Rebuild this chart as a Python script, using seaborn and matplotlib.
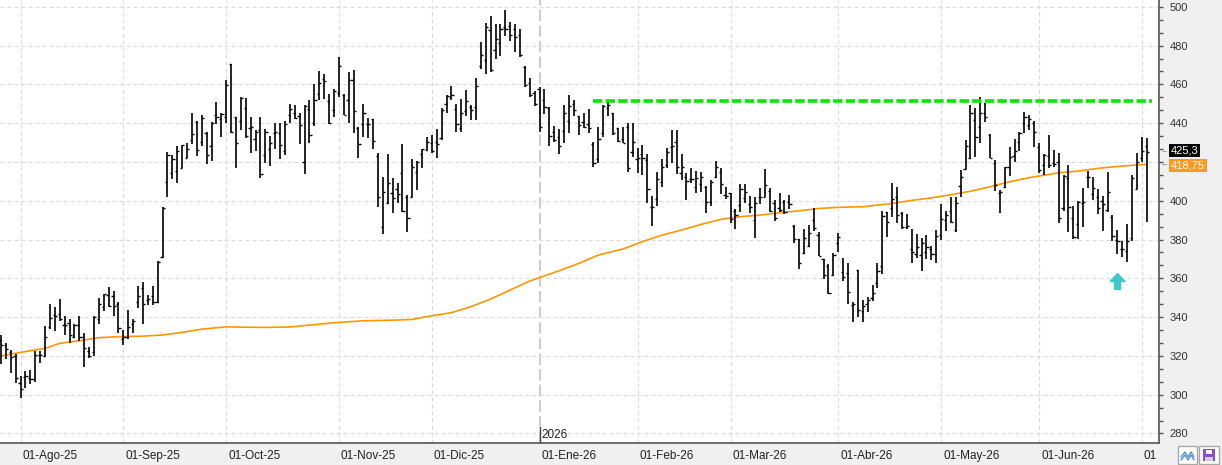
import numpy as np
import matplotlib
matplotlib.use("Agg")
import matplotlib.pyplot as plt
from matplotlib.ticker import MultipleLocator, NullFormatter, FuncFormatter
from matplotlib.patches import Rectangle
from matplotlib.lines import Line2D
import seaborn as sns

# daily OHLC bars (late Jul-25 .. 01-Jul-26)
opens = [
    328.2, 325.6, 322.2, 320.0, 305.9, 309.0, 308.8, 307.9, 320.5, 320.0,
    335.1, 341.1, 341.6, 335.9, 337.1, 329.6, 335.9, 329.6, 322.7, 322.2,
    338.9, 345.4, 351.4, 350.9, 346.8, 328.6, 329.6, 336.5, 348.0, 354.8,
    348.8, 350.9, 348.0, 370.8, 409.8, 414.1, 415.5, 416.7, 421.8, 431.3,
    440.7, 430.1, 435.1, 428.2, 444.2, 441.9, 443.3, 470.5, 443.0, 441.3,
    447.6, 437.3, 431.6, 436.4, 423.6, 426.5, 434.7, 435.1, 425.8, 444.2,
    445.0, 443.7, 419.8, 447.1, 439.9, 454.8, 462.6, 451.4, 446.8, 455.7,
    454.5, 451.9, 462.2, 437.6, 439.5, 439.5, 442.1, 423.0, 386.3, 399.0,
    404.1, 405.9, 414.5, 401.7, 402.1, 414.6, 424.1, 426.1, 429.9, 430.4,
    432.1, 449.7, 453.6, 447.1, 437.3, 446.2, 448.1, 448.1, 469.4, 472.5,
    488.0, 477.7, 481.1, 489.4, 490.0, 488.5, 485.4, 469.1, 460.5, 455.7,
    457.4, 451.9, 447.6, 435.6, 433.0, 435.9, 441.1, 449.7, 443.7, 440.7,
    439.5, 429.2, 421.3, 434.7, 447.6, 445.0, 437.3, 431.6, 437.8, 425.3,
    421.3, 424.1, 421.0, 396.9, 400.7, 409.8, 418.4, 427.9, 430.1, 414.1,
    412.4, 411.0, 407.2, 408.6, 407.2, 399.5, 412.0, 414.6, 402.9, 403.8,
    394.9, 397.8, 401.2, 398.3, 390.1, 401.7, 402.1, 405.0, 399.0, 396.1,
    399.5, 399.5, 387.0, 380.1, 373.2, 376.6, 390.1, 382.3, 369.8, 366.3,
    361.7, 378.4, 363.4, 362.6, 346.2, 364.3, 343.3, 346.8, 349.7, 357.4,
    366.5, 394.0, 396.1, 402.1, 393.5, 386.6, 374.9, 372.4, 372.0, 373.7,
    374.9, 372.5, 382.3, 390.1, 394.9, 384.9, 407.6, 416.2, 421.8, 441.6,
    437.8, 445.0, 433.9, 419.3, 404.1, 406.9, 417.5, 423.2, 430.4, 440.2,
    439.0, 440.2, 427.9, 418.4, 423.2, 419.3, 420.1, 396.1, 411.5, 390.9,
    388.0, 399.0, 412.4, 403.5, 401.7, 400.0, 395.2, 391.8, 379.7, 374.9,
    374.2, 380.6, 405.9, 421.8, 428.2,
]
highs = [
    330.8, 326.8, 323.1, 320.8, 309.7, 312.4, 312.7, 322.7, 322.7, 335.4,
    346.8, 345.4, 349.3, 340.6, 338.9, 336.5, 340.6, 332.0, 324.8, 340.6,
    349.7, 351.9, 355.7, 353.6, 348.0, 333.4, 343.7, 338.9, 356.0, 358.3,
    351.4, 356.2, 369.1, 396.6, 425.3, 423.6, 428.2, 428.7, 429.6, 445.4,
    441.3, 444.2, 435.6, 440.7, 451.0, 445.0, 462.2, 470.5, 443.3, 453.3,
    453.1, 443.0, 436.4, 443.0, 436.8, 433.3, 440.2, 439.9, 441.3, 449.7,
    449.2, 445.4, 449.3, 451.9, 460.2, 466.9, 465.6, 454.8, 457.4, 473.9,
    454.8, 466.5, 467.4, 438.2, 449.8, 442.5, 442.1, 424.4, 412.4, 424.1,
    411.5, 409.3, 429.2, 402.9, 421.3, 420.5, 426.7, 433.0, 433.9, 436.8,
    448.0, 454.5, 459.1, 449.8, 452.4, 457.1, 449.3, 463.1, 481.6, 491.4,
    495.4, 491.1, 491.1, 498.6, 492.3, 491.1, 488.8, 469.4, 463.1, 456.7,
    458.4, 457.4, 448.1, 438.5, 436.8, 449.3, 454.5, 451.9, 443.8, 445.0,
    447.1, 430.4, 438.2, 449.3, 452.2, 445.0, 437.3, 438.2, 439.9, 439.9,
    427.0, 428.7, 424.1, 402.4, 414.6, 421.3, 427.3, 436.4, 436.4, 424.1,
    414.1, 416.7, 415.3, 414.6, 407.6, 410.7, 420.5, 417.0, 407.2, 404.1,
    395.6, 408.6, 408.6, 402.4, 402.1, 406.4, 416.2, 406.4, 400.4, 403.8,
    400.4, 402.9, 387.5, 380.1, 385.2, 387.5, 396.1, 384.0, 370.0, 367.2,
    373.2, 383.5, 370.3, 367.7, 348.0, 364.3, 348.8, 350.2, 356.6, 367.7,
    394.7, 394.4, 409.3, 406.9, 394.0, 393.1, 385.2, 382.8, 380.6, 382.3,
    376.6, 384.9, 398.1, 394.7, 402.1, 401.7, 415.8, 431.3, 449.3, 447.6,
    453.3, 450.5, 434.2, 421.0, 405.5, 417.5, 427.9, 431.6, 435.6, 445.9,
    444.2, 441.3, 429.6, 424.1, 433.9, 426.1, 424.8, 413.2, 418.4, 397.3,
    399.8, 406.4, 415.5, 412.0, 405.9, 402.4, 414.6, 392.6, 384.9, 379.4,
    388.0, 413.2, 424.4, 433.0, 432.1,
]
lows = [
    315.8, 318.2, 311.4, 306.2, 298.1, 303.3, 305.5, 306.7, 316.2, 319.6,
    333.9, 333.0, 338.2, 330.8, 326.5, 329.1, 327.9, 314.5, 318.8, 320.0,
    336.5, 343.3, 345.4, 340.6, 331.6, 325.6, 328.6, 331.6, 344.5, 336.5,
    346.2, 346.2, 347.5, 370.3, 402.1, 411.0, 409.3, 416.7, 421.8, 429.2,
    423.2, 428.4, 418.7, 420.6, 439.4, 433.0, 440.2, 435.1, 416.7, 436.4,
    432.1, 424.8, 425.8, 411.5, 419.6, 417.9, 426.5, 421.3, 423.6, 440.2,
    441.9, 429.1, 413.8, 429.9, 438.7, 451.9, 452.4, 439.4, 443.3, 453.6,
    444.2, 440.2, 435.1, 421.8, 433.0, 432.1, 426.5, 396.6, 382.7, 398.3,
    393.5, 398.6, 394.4, 383.7, 402.1, 405.5, 416.7, 425.8, 424.8, 421.8,
    431.3, 445.4, 451.9, 435.2, 435.6, 443.7, 441.4, 441.6, 467.7, 465.6,
    466.5, 472.9, 474.8, 485.1, 482.5, 476.5, 473.9, 458.8, 453.6, 449.0,
    435.2, 444.5, 428.4, 430.4, 424.1, 429.9, 435.1, 443.8, 433.9, 437.3,
    435.1, 417.2, 419.6, 432.7, 443.8, 433.9, 430.4, 429.9, 414.6, 422.7,
    414.5, 413.2, 399.0, 387.1, 397.3, 407.2, 417.0, 419.3, 413.8, 410.7,
    400.4, 409.3, 404.1, 404.7, 393.8, 397.3, 411.9, 403.5, 400.7, 388.3,
    385.2, 394.4, 399.0, 393.8, 381.0, 398.3, 402.1, 394.4, 389.7, 394.4,
    393.0, 395.6, 378.4, 364.6, 372.5, 376.3, 384.6, 371.7, 359.5, 351.9,
    361.4, 373.7, 358.8, 346.6, 337.3, 339.9, 337.3, 342.8, 348.5, 354.8,
    362.2, 381.5, 391.4, 388.3, 385.2, 385.2, 368.1, 370.6, 363.9, 370.0,
    369.4, 368.1, 379.7, 384.6, 388.7, 384.0, 402.1, 416.2, 421.3, 422.4,
    429.9, 440.7, 421.8, 405.2, 393.5, 406.4, 412.9, 420.1, 425.8, 435.1,
    436.4, 427.9, 414.5, 413.2, 416.7, 417.2, 388.3, 394.9, 384.0, 380.1,
    380.1, 386.6, 406.4, 400.4, 393.1, 384.6, 394.4, 379.4, 372.5, 371.2,
    368.6, 379.4, 405.9, 420.1, 389.2,
]
closes = [
    325.6, 323.4, 319.3, 308.5, 302.8, 309.7, 307.9, 320.5, 320.5, 329.9,
    339.4, 340.6, 338.9, 335.9, 330.8, 335.9, 329.6, 323.9, 320.0, 339.9,
    346.8, 351.9, 345.7, 345.7, 334.2, 329.6, 335.1, 338.2, 350.9, 346.8,
    349.2, 348.0, 368.6, 396.1, 423.6, 421.3, 425.8, 428.7, 426.5, 434.4,
    426.1, 442.5, 423.6, 440.2, 443.0, 444.7, 459.6, 435.6, 429.6, 452.8,
    433.3, 438.2, 435.6, 413.8, 435.6, 429.6, 435.2, 428.7, 439.5, 447.1,
    442.5, 439.0, 448.8, 433.9, 452.2, 460.5, 461.7, 439.9, 456.7, 469.4,
    444.2, 462.2, 446.2, 429.2, 445.0, 439.5, 430.8, 401.7, 404.3, 409.0,
    401.2, 403.5, 394.9, 390.9, 417.2, 419.8, 426.7, 430.4, 425.8, 429.2,
    446.8, 454.0, 454.5, 439.5, 445.0, 451.6, 446.8, 459.1, 475.1, 489.4,
    467.4, 483.2, 488.3, 488.8, 485.4, 484.2, 475.1, 459.6, 454.5, 449.7,
    437.8, 448.1, 433.3, 431.3, 428.2, 445.0, 448.8, 446.8, 439.0, 437.8,
    437.3, 419.3, 431.6, 448.8, 449.3, 435.1, 430.8, 429.9, 416.7, 430.1,
    421.8, 421.8, 405.9, 396.9, 411.0, 417.2, 425.3, 428.2, 417.2, 417.2,
    410.3, 411.0, 411.5, 412.0, 399.5, 409.8, 417.2, 408.6, 402.4, 390.4,
    392.6, 405.9, 404.7, 396.6, 399.0, 401.7, 408.1, 394.9, 390.9, 395.2,
    394.4, 398.3, 380.1, 367.7, 380.6, 383.2, 385.8, 371.7, 361.7, 352.6,
    372.0, 381.1, 360.5, 352.8, 346.8, 343.7, 345.7, 348.8, 352.3, 363.9,
    392.1, 388.9, 400.7, 392.6, 386.3, 387.1, 373.7, 376.0, 378.4, 376.0,
    372.5, 381.8, 390.6, 392.6, 389.2, 398.6, 412.0, 428.2, 445.0, 433.0,
    445.4, 443.0, 421.8, 408.1, 404.7, 417.2, 422.7, 425.8, 435.1, 443.0,
    441.9, 435.2, 415.8, 423.6, 418.4, 418.9, 390.9, 412.7, 396.9, 381.5,
    399.5, 399.5, 412.0, 406.4, 396.1, 398.3, 404.7, 381.8, 379.4, 374.9,
    379.4, 411.5, 419.8, 425.6, 425.3,
]

# long moving average (orange), read at selected bars
ma_bar = [0, 4, 9, 12, 16, 20, 24, 29, 33, 37, 41, 46, 50, 54, 59, 63, 68, 74,
          81, 84, 88, 92, 96, 100, 104, 108, 114, 118, 122, 127, 131, 135, 139,
          143, 147, 151, 155, 159, 163, 167, 171, 176, 182, 186, 190, 194, 198,
          202, 206, 210, 216, 220, 224, 229, 234]
ma_val = [320.0, 321.8, 323.9, 326.5, 327.8, 329.4, 329.9, 330.2, 330.8, 332.1,
          333.8, 335.0, 334.8, 334.7, 334.9, 335.9, 337.1, 338.1, 338.5, 338.8,
          340.7, 342.3, 345.4, 349.3, 354.0, 358.6, 363.9, 367.7, 372.0, 375.1,
          378.9, 382.3, 384.9, 387.8, 390.4, 391.8, 392.6, 393.8, 394.8, 396.0,
          396.6, 396.9, 398.6, 400.2, 401.5, 403.1, 404.9, 407.2, 409.8, 411.9,
          414.4, 415.3, 416.7, 417.9, 418.75]

# month ticks (bar index of first session) and labels
month_bar = [4, 25, 46, 69, 88, 110, 130, 149, 171, 192, 212, 233]
month_lab = ["01-Ago-25", "01-Sep-25", "01-Oct-25", "01-Nov-25", "01-Dic-25",
             "01-Ene-26", "01-Feb-26", "01-Mar-26", "01-Abr-26", "01-May-26",
             "01-Jun-26", "01"]
year_bar = 110
year_lab = "2026"

# resistance line, signal arrow, last values
resist_level = 451.4
resist_from, resist_to = 121, 235
signal_bar, signal_price = 228, 358.6
last_close = 425.3
last_ma = 418.75
hidden_label = 420  # covered by the value tags

sns.set_style("white")
plt.rcParams['font.family'] = ['Liberation Sans', 'DejaVu Sans']

W, H = 1222, 465
fig = plt.figure(figsize=(W / 100, H / 100), dpi=100, facecolor='#f0f0f0')
ax = fig.add_axes([0, 22 / H, 1159 / W, 443 / H])
ax.set_facecolor('white')

xb = np.arange(len(closes))

# grid
grid_kw = dict(color='#dadada', lw=0.8, ls=(0, (3.6, 2.7)))
for m in month_bar:
    if m != year_bar:
        ax.axvline(m, zorder=0, **grid_kw)
ax.yaxis.set_major_locator(MultipleLocator(20))
ax.yaxis.set_minor_locator(MultipleLocator(20 / 3))
ax.grid(axis='y', which='major', **grid_kw)
ax.set_axisbelow(True)
ax.axvline(year_bar, color='#cdcdcd', lw=1.5, ls=(0, (5.5, 2)), zorder=0)
ax.axvline(year_bar, ymin=0, ymax=16 / 443, color='#444444', lw=1, zorder=3)

# moving average
sns.lineplot(x=ma_bar, y=ma_val, color='#ff9600', lw=1.2, ax=ax, zorder=2)

# OHLC bars
ax.vlines(xb, lows, highs, color='black', lw=1.2, zorder=3)
ax.hlines(opens, xb - 0.45, xb, color='black', lw=1.0, zorder=3)
ax.hlines(closes, xb, xb + 0.45, color='black', lw=1.0, zorder=3)

# resistance
ax.hlines(resist_level, resist_from, resist_to, colors='#0be30b', lw=2.6,
          linestyles=(0, (2.6, 0.9)), zorder=4)

# signal arrow
arrow = [(-7.5, 0), (0, 8), (7.5, 0), (3, 0), (3, -8), (-3, -8), (-3, 0), (-7.5, 0)]
ax.plot([signal_bar], [signal_price], marker=arrow, markersize=11.5,
        color='#3ec9c9', ls='none', zorder=5)

ax.set_xlim(-0.2, 236.5)
ax.set_ylim(275.1, 503.5)

# axes styling
for s in ['top', 'left']:
    ax.spines[s].set_visible(False)
for s in ['right', 'bottom']:
    ax.spines[s].set_color('#555555')
    ax.spines[s].set_linewidth(1.2)

ax.yaxis.tick_right()
ax.tick_params(axis='y', which='both', direction='out', length=3, width=1,
               color='#555555', pad=4.5, labelsize=8, labelcolor='#333333')
ax.yaxis.set_major_formatter(
    FuncFormatter(lambda v, p: '' if round(v) == hidden_label else f"{v:.0f}"))

ax.set_xticks(month_bar)
ax.xaxis.set_major_formatter(NullFormatter())
ax.tick_params(axis='x', direction='out', length=7, width=1, color='#444444')
ax.set_xlabel('')
ax.set_ylabel('')

for m, lab in zip(month_bar, month_lab):
    ax.annotate(lab, xy=(m, 0), xycoords=('data', 'axes fraction'),
                xytext=(2, -13), textcoords='offset pixels', ha='left',
                va='center', fontsize=8.5, color='#222222', annotation_clip=False)
ax.annotate(year_lab, xy=(year_bar, 0), xycoords=('data', 'axes fraction'),
            xytext=(2, 8), textcoords='offset pixels', ha='left', va='center',
            fontsize=8.5, color='#222222', annotation_clip=False)

# last value tags
ax.annotate(f"{last_close:.1f}".replace('.', ','), xy=(1, last_close),
            xycoords=('axes fraction', 'data'), xytext=(12, 1),
            textcoords='offset pixels', ha='left', va='center', fontsize=8,
            color='white', annotation_clip=False,
            bbox=dict(boxstyle='square,pad=0.15', fc='black', ec='none'))
ax.annotate(f"{last_ma:.2f}".replace('.', ','), xy=(1, last_ma),
            xycoords=('axes fraction', 'data'), xytext=(12, -1),
            textcoords='offset pixels', ha='left', va='center', fontsize=8,
            color='white', annotation_clip=False,
            bbox=dict(boxstyle='square,pad=0.15', fc='#ff9a1f', ec='none'))
for v in (last_close, last_ma):
    ax.annotate('←', xy=(1, v), xycoords=('axes fraction', 'data'),
                xytext=(1, 0), textcoords='offset pixels', ha='left',
                va='center', fontsize=5.5, color='#777777', annotation_clip=False)

# little toolbar icons bottom-right
def fx(px):
    return px / W


def fy(py):
    return (H - py) / H


fig.add_artist(Rectangle((fx(1178), fy(464)), fx(19), 18 / H, transform=fig.transFigure,
                         fc='white', ec='#a8a8a8', lw=1))
fig.add_artist(Line2D([fx(1181), fx(1185), fx(1188), fx(1191), fx(1194)],
                      [fy(457), fy(452), fy(457), fy(452), fy(457)],
                      transform=fig.transFigure, color='#5a8fd0', lw=1))
fig.add_artist(Line2D([fx(1181), fx(1185), fx(1188), fx(1191), fx(1194)],
                      [fy(460), fy(455), fy(460), fy(455), fy(460)],
                      transform=fig.transFigure, color='#5a8fd0', lw=1))
fig.add_artist(Rectangle((fx(1199), fy(464)), fx(20), 18 / H, transform=fig.transFigure,
                         fc='white', ec='#a8a8a8', lw=1))
fig.add_artist(Rectangle((fx(1203), fy(461)), fx(12), 12 / H, transform=fig.transFigure,
                         fc='#8a4fc8', ec='none'))
fig.add_artist(Rectangle((fx(1206), fy(454)), fx(6), 4 / H, transform=fig.transFigure,
                         fc='white', ec='none'))
fig.add_artist(Rectangle((fx(1205), fy(461)), fx(8), 4 / H, transform=fig.transFigure,
                         fc='#d8c8f0', ec='none'))

fig.savefig('out.png', dpi=100, facecolor=fig.get_facecolor())
